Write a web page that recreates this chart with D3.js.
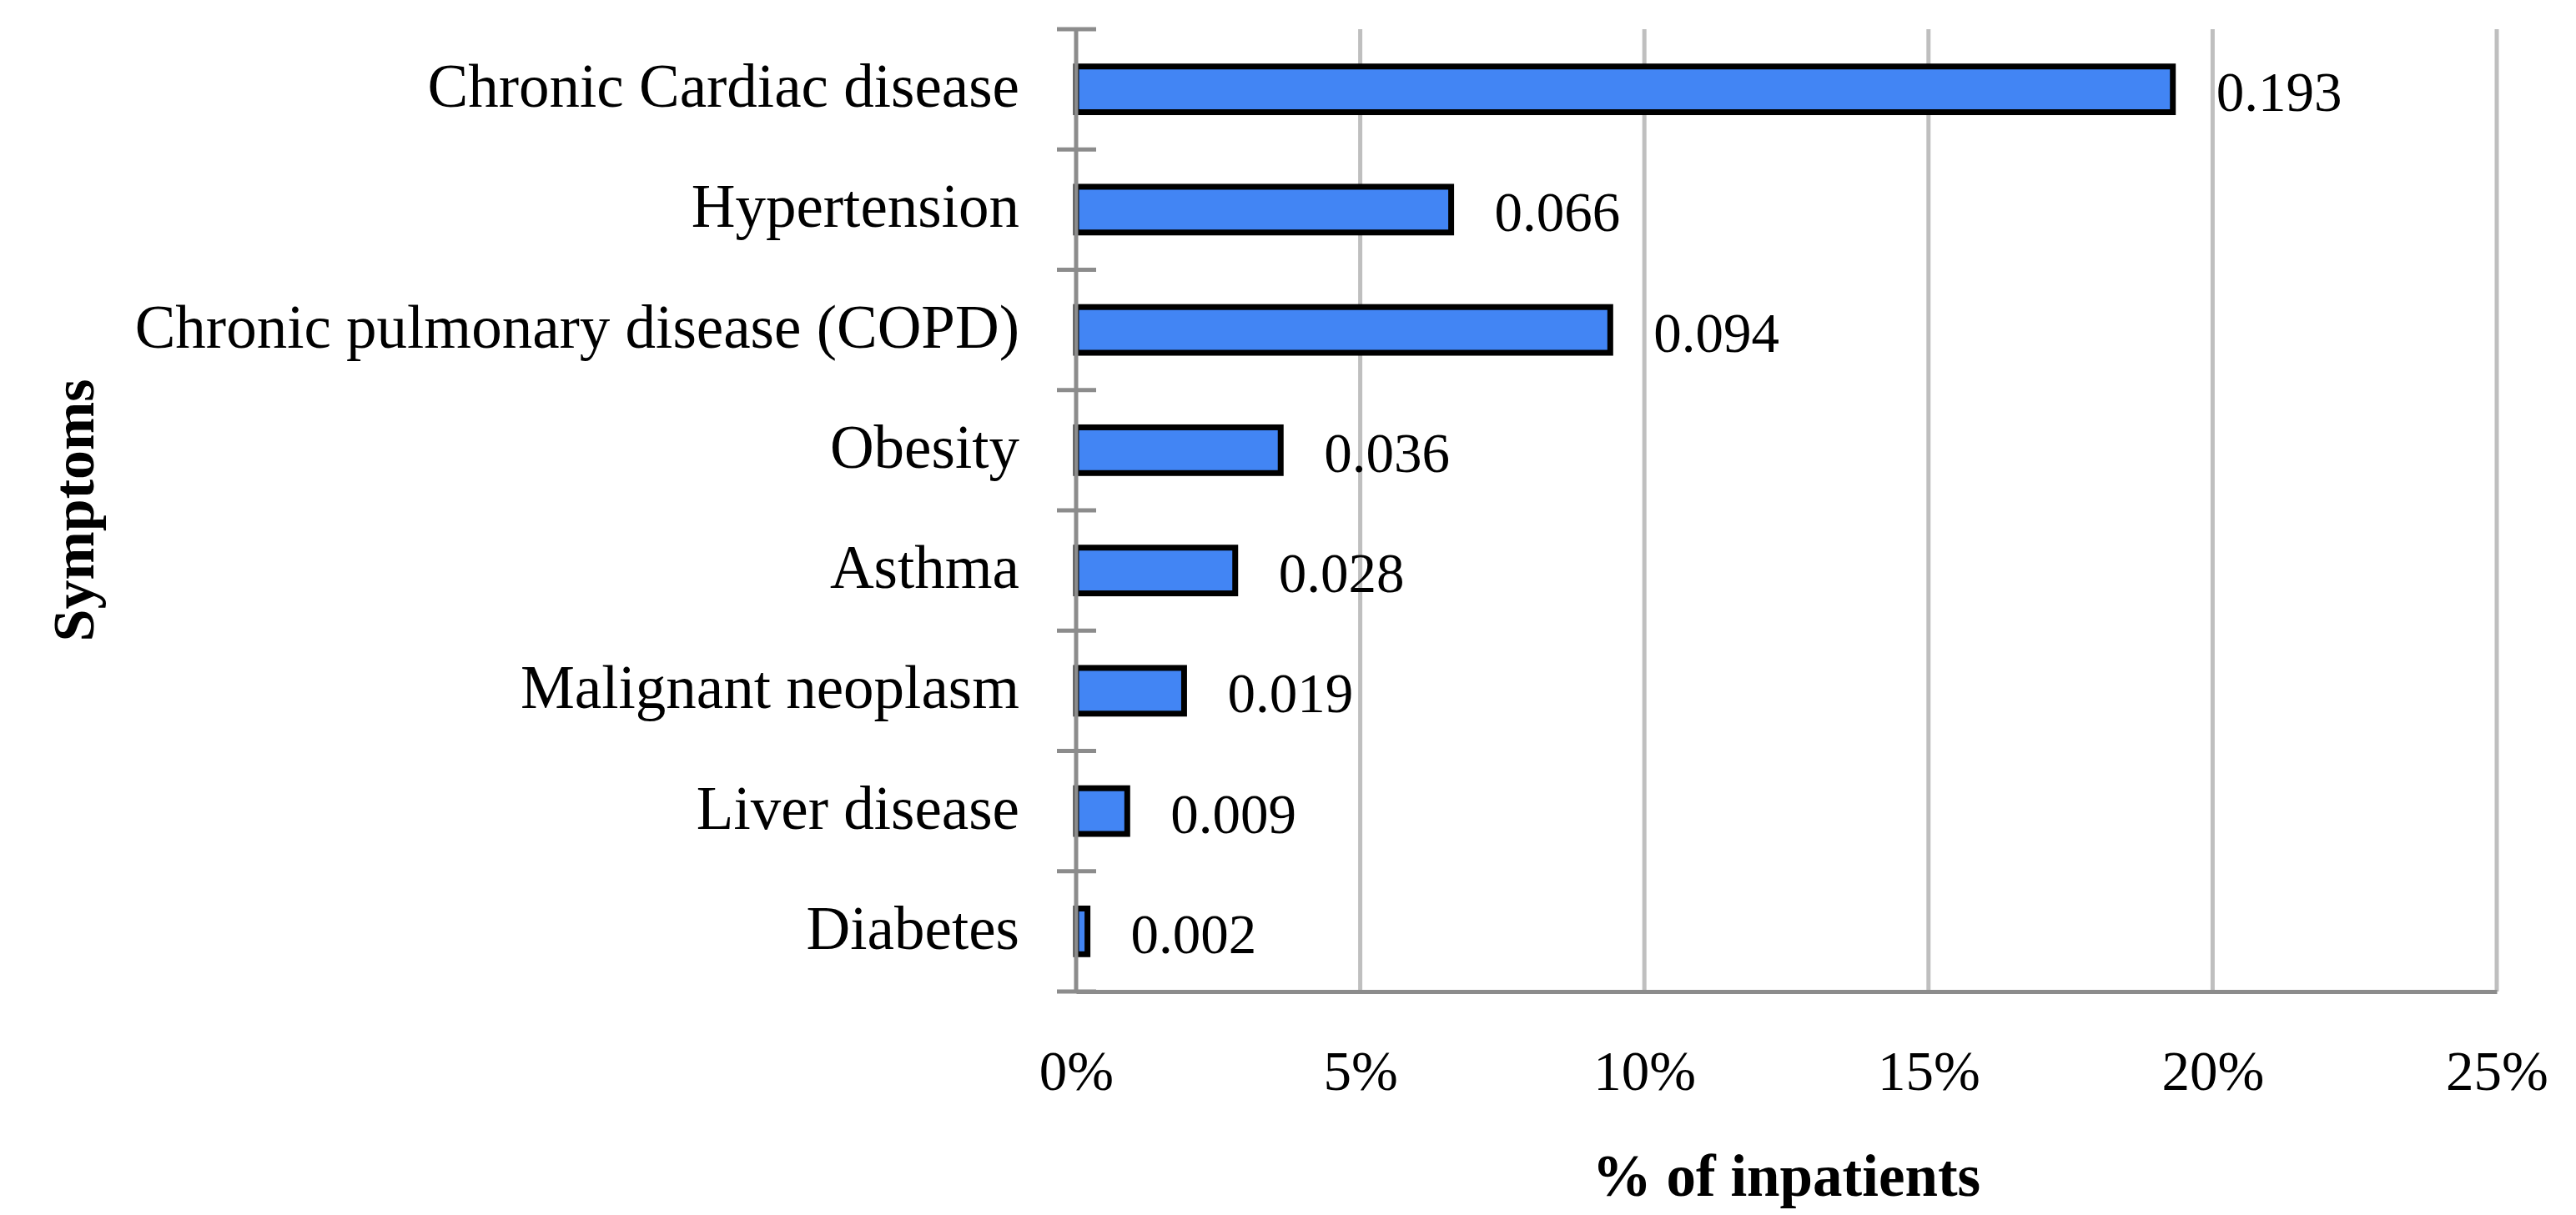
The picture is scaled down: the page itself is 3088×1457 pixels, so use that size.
<!DOCTYPE html>
<html>
<head>
<meta charset="utf-8">
<script src="https://cdn.jsdelivr.net/npm/d3@7"></script>
<style>
  body { margin: 0; background: #fff; }
  text { font-family: "Liberation Serif", "Times New Roman", serif; fill: #000; }
</style>
</head>
<body>
<svg id="chart" width="3088" height="1457"></svg>
<script>
// values (share of inpatients)
var categories = ["Chronic Cardiac disease", "Hypertension", "Chronic pulmonary disease (COPD)",
                  "Obesity", "Asthma", "Malignant neoplasm", "Liver disease", "Diabetes"];
var values = [0.193, 0.066, 0.094, 0.036, 0.028, 0.019, 0.009, 0.002];
var valueLabels = ["0.193", "0.066", "0.094", "0.036", "0.028", "0.019", "0.009", "0.002"];
var xTicks = [0, 0.05, 0.10, 0.15, 0.20, 0.25];
var xTitle = "% of inpatients";
var yTitle = "Symptoms";

var svg = d3.select("#chart");
var margin = {left: 1290, right: 95, top: 35, bottom: 268};
var W = +svg.attr("width"), H = +svg.attr("height");
var x0 = margin.left, x1 = W - margin.right;
var y0 = margin.top, y1 = H - margin.bottom;

var fsCat = 73, fsNum = 67;

var x = d3.scaleLinear().domain([0, 0.25]).range([x0, x1]);
var y = d3.scaleBand().domain(categories).range([y0, y1])
    .paddingInner(0.62).paddingOuter(0.31);

// vertical gridlines
svg.append("g").selectAll("line")
    .data(xTicks.slice(1))
    .enter().append("line")
    .attr("x1", d => x(d)).attr("x2", d => x(d))
    .attr("y1", y0).attr("y2", y1)
    .attr("stroke", "#bfbfbf").attr("stroke-width", 5);

// bars
svg.append("g").selectAll("rect")
    .data(values)
    .enter().append("rect")
    .attr("x", x(0))
    .attr("y", (d, i) => y(categories[i]))
    .attr("width", d => x(d) - x(0))
    .attr("height", y.bandwidth())
    .attr("fill", "#4285f4")
    .attr("stroke", "#000")
    .attr("stroke-width", 7);

// value labels
svg.append("g").selectAll("text")
    .data(values)
    .enter().append("text")
    .attr("x", d => x(d) + 52)
    .attr("y", (d, i) => y(categories[i]) + y.bandwidth() / 2 + 26)
    .attr("font-size", fsNum + "px")
    .text((d, i) => valueLabels[i]);

// x axis
var xAxis = svg.append("g")
    .attr("transform", "translate(0," + y1 + ")")
    .call(d3.axisBottom(x).tickValues(xTicks).tickSize(0).tickPadding(70)
          .tickFormat(d3.format(".0%")));
xAxis.select(".domain").attr("stroke", "#8c8c8c").attr("stroke-width", 5);
xAxis.selectAll("text").attr("font-size", fsNum + "px")
    .attr("font-family", "Liberation Serif").attr("fill", "#000");

// y axis line + crossing category ticks
var yAxis = svg.append("g");
yAxis.append("line")
    .attr("x1", x0).attr("x2", x0).attr("y1", y0).attr("y2", y1 + 2)
    .attr("stroke", "#8c8c8c").attr("stroke-width", 5);
var bounds = categories.map(c => y(c) - y.step() * y.paddingInner() / 2);
bounds.push(y1);
yAxis.selectAll(".tk").data(bounds).enter().append("line")
    .attr("class", "tk")
    .attr("x1", x0 - 23).attr("x2", x0 + 24)
    .attr("y1", d => d).attr("y2", d => d)
    .attr("stroke", "#8c8c8c").attr("stroke-width", 5);

// category labels
yAxis.selectAll(".cat").data(categories).enter().append("text")
    .attr("class", "cat")
    .attr("x", x0 - 68)
    .attr("y", d => y(d) + y.bandwidth() / 2 + 21)
    .attr("text-anchor", "end")
    .attr("font-size", fsCat + "px")
    .text(d => d);

// titles
svg.append("text")
    .attr("x", (x0 + x1) / 2).attr("y", 1434)
    .attr("text-anchor", "middle")
    .attr("font-size", "71px").attr("font-weight", "bold")
    .text(xTitle);

svg.append("text")
    .attr("transform", "translate(112," + ((y0 + y1) / 2) + ") rotate(-90)")
    .attr("text-anchor", "middle")
    .attr("font-size", "70px").attr("font-weight", "bold")
    .text(yTitle);
</script>
</body>
</html>
